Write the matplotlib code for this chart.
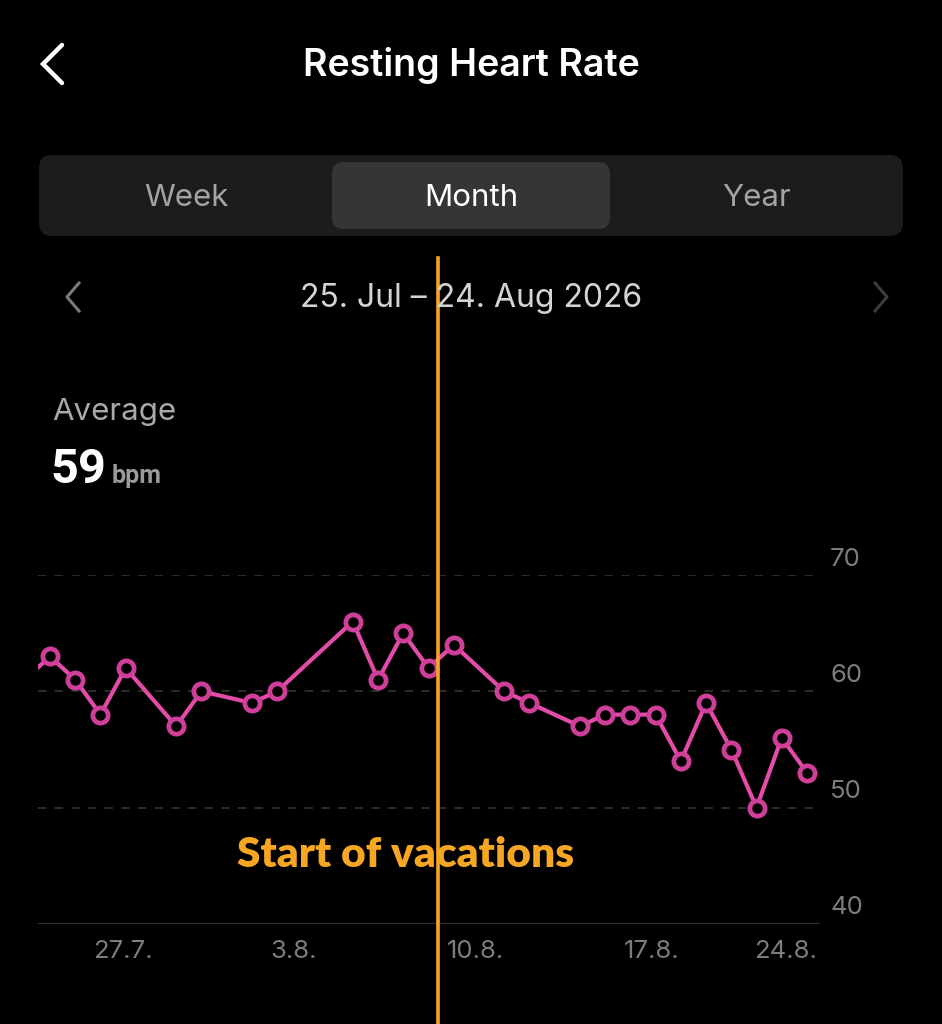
import matplotlib
matplotlib.use("Agg")
import matplotlib.pyplot as plt
import matplotlib.transforms as mtransforms
from matplotlib.patches import FancyBboxPatch
import numpy as np
import pandas as pd

# resting heart rate per day (days without a value are skipped)
dates = ["2026-07-24", "2026-07-25", "2026-07-26", "2026-07-27", "2026-07-28",
         "2026-07-30", "2026-07-31", "2026-08-02", "2026-08-03", "2026-08-06",
         "2026-08-07", "2026-08-08", "2026-08-09", "2026-08-10", "2026-08-12",
         "2026-08-13", "2026-08-15", "2026-08-16", "2026-08-17", "2026-08-18",
         "2026-08-19", "2026-08-20", "2026-08-21", "2026-08-22", "2026-08-23",
         "2026-08-24"]
bpm = [61, 63, 61, 58, 62,
       57, 60, 59, 60, 66,
       61, 65, 62, 64, 60,
       59, 57, 58, 58, 58,
       54, 59, 55, 50, 56,
       53]

tick_dates = ["2026-07-27", "2026-08-03", "2026-08-10", "2026-08-17", "2026-08-24"]
tick_labels = ["27.7.", "3.8.", "10.8.", "17.8.", "24.8."]
y_ticks = [40, 50, 60, 70]
vacation_start = "2026-08-09 09:00"

start = pd.Timestamp("2026-07-25")
x = np.array([(pd.Timestamp(d) - start).days for d in dates], dtype=float)
tx = np.array([(pd.Timestamp(d) - start).days for d in tick_dates], dtype=float)
vx = (pd.Timestamp(vacation_start) - start) / pd.Timedelta(days=1)

BG = "black"
PINK = "#e24ba8"
RING = "#cf3f99"
ORANGE = "#f6a623"
FONT = ["Inter", "DejaVu Sans"]
NARROW = ["Roboto", "DejaVu Sans"]

plt.rcParams["font.family"] = FONT
fig = plt.figure(figsize=(9.42, 10.24), dpi=100, facecolor=BG)

W, H = 942, 1024


def fx(px):
    return px / W


def fy(py):
    return 1 - py / H


# header
fig.text(fx(471), fy(66), "Resting Heart Rate", color="white", fontsize=27,
         fontweight="semibold", ha="center", va="center")
fig.add_artist(plt.Line2D([fx(62), fx(43), fx(62)], [fy(45), fy(64), fy(83)],
                          color="white", lw=3.2, solid_capstyle="round",
                          solid_joinstyle="miter"))

# segmented control
seg = FancyBboxPatch((fx(39), fy(236)), fx(864), 81 / H,
                     boxstyle="round,pad=0,rounding_size=0.014",
                     transform=fig.transFigure, facecolor="#1c1c1e",
                     edgecolor="none", mutation_aspect=W / H)
fig.add_artist(seg)
sel = FancyBboxPatch((fx(332), fy(229)), fx(278), 67 / H,
                     boxstyle="round,pad=0,rounding_size=0.012",
                     transform=fig.transFigure, facecolor="#353537",
                     edgecolor="none", mutation_aspect=W / H)
fig.add_artist(sel)
for cx, lab, col in [(186, "Week", "#a3a3a3"), (471, "Month", "white"),
                     (757, "Year", "#a3a3a3")]:
    fig.text(fx(cx), fy(198), lab, color=col, fontsize=22.5, ha="center",
             va="center")

# date range row
fig.text(fx(471), fy(299), "25. Jul – 24. Aug 2026", color="#d4d4d4",
         fontsize=23, ha="center", va="center")
fig.add_artist(plt.Line2D([fx(79), fx(67), fx(79)], [fy(283), fy(297), fy(311)],
                          color="#7a7a7a", lw=2.2))
fig.add_artist(plt.Line2D([fx(875), fx(887), fx(875)], [fy(283), fy(297), fy(311)],
                          color="#3c3c3c", lw=2.2))

# average block
fig.text(fx(52), fy(412), "Average", color="#a9a9a9", fontsize=22.5,
         ha="left", va="center")
fig.text(fx(50), fy(483), "59", color="white", fontsize=35, fontweight="bold",
         family=NARROW, ha="left", va="baseline")
fig.text(fx(112), fy(483), "bpm", color="#9a9a9a", fontsize=18,
         fontweight="bold", family=NARROW, ha="left", va="baseline")

# chart
left_px, right_px, top_px, bottom_px = 38, 820, 575, 924
ax = fig.add_axes([fx(left_px), fy(bottom_px), (right_px - left_px) / W,
                   (bottom_px - top_px) / H])
ax.set_facecolor(BG)
px_per_day = (807 - 50) / 30
ax.set_xlim(-(50 - left_px) / px_per_day, 30 + (right_px - 807) / px_per_day)
ax.set_ylim(40, 70)
for s in ax.spines.values():
    s.set_visible(False)
ax.set_xticks([])
ax.set_yticks([])

for v in y_ticks[1:]:
    ax.axhline(v, color="#333333", lw=1.2, ls=(0, (5, 5)), zorder=1)
ax.axhline(40, color="#3a3a3a", lw=2, zorder=1)

ax.plot(x, bpm, color=PINK, lw=3, zorder=3, solid_joinstyle="round",
        marker="o", markersize=11, markerfacecolor=BG, markeredgecolor=RING,
        markeredgewidth=3.4)

# y labels, sitting above each grid line, right of the plot
ylab_off = mtransforms.ScaledTranslation(10 / 100, 16 / 100, fig.dpi_scale_trans)
ytrans = mtransforms.blended_transform_factory(ax.transAxes, ax.transData) + ylab_off
for v in y_ticks:
    ax.text(1.0, v, str(v), transform=ytrans, color="#7d7d7d", fontsize=18.5,
            ha="left", va="center", clip_on=False)

# x labels
xtrans = mtransforms.blended_transform_factory(ax.transData, ax.transAxes)
for i, (t, lab) in enumerate(zip(tx, tick_labels)):
    last = i == len(tx) - 1
    off = mtransforms.ScaledTranslation((10 if last else -7) / 100, 0,
                                        fig.dpi_scale_trans)
    ax.text(t, -0.08, lab, transform=xtrans + off, color="#7d7d7d",
            fontsize=18.5, ha="right" if last else "left", va="center",
            clip_on=False)

# vacation marker
ax.text(14.1, 45.9, "Start of vacations", color=ORANGE, fontsize=30.5,
        fontweight="heavy", family=["Lato", "DejaVu Sans"], ha="center",
        va="center", zorder=4)
ax.axvline(vx, ymin=-(1024 - bottom_px) / (bottom_px - top_px),
           ymax=(bottom_px - 258) / (bottom_px - top_px), color=ORANGE,
           lw=2.6, clip_on=False, zorder=5)

fig.savefig("out.png", dpi=100, facecolor=BG)
